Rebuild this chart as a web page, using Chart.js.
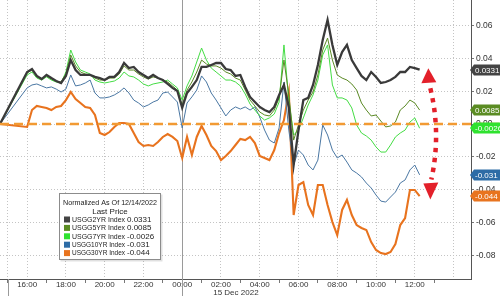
<!DOCTYPE html>
<html>
<head>
<meta charset="utf-8">
<script src="https://cdn.jsdelivr.net/npm/chart.js@4.4.0/dist/chart.umd.min.js"></script>
<style>
html,body{margin:0;padding:0;background:#fff;}
</style>
</head>
<body>
<canvas id="myChart" width="500" height="296"></canvas>
<script>
// hours counted from midnight 14 Dec 2022 (24 = 00:00 on 15 Dec)
var hours=[14.6,
 16,16.25,16.5,16.75,17,17.25,17.5,17.75,18,18.25,18.5,18.75,19,19.25,19.5,19.75,
 20,20.25,20.5,20.75,21,21.25,21.5,21.75,22,22.25,22.5,22.75,23,23.25,23.5,23.75,
 24,24.25,24.5,24.75,25,25.25,25.5,25.75,26,26.25,26.5,26.75,27,27.25,27.5,27.75,
 28,28.25,28.5,28.75,29,29.25,29.5,29.75,30,30.25,30.5,30.75,31,31.25,31.5,31.75,
 32,32.25,32.5,32.75,33,33.25,33.5,33.75,34,34.25,34.5,34.75,35,35.25,35.5,35.75,
 36,36.25]

var usgg2=[0,0.0317,0.0335,0.0293,0.0274,0.0299,0.0280,0.0262,0.0250,0.0293,0.0390,
 0.0329,0.0299,0.0299,0.0299,0.0287,0.0280,0.0268,0.0287,0.0287,0.0317,
 0.0372,0.0341,0.0348,0.0317,0.0299,0.0280,0.0299,0.0280,0.0268,0.0244,
 0.0220,0.0201,0.0098,0.0189,0.0226,0.0268,0.0348,0.0348,0.0360,0.0372,
 0.0372,0.0335,0.0329,0.0293,0.0299,0.0226,0.0165,0.0134,0.0104,0.0085,
 0.0073,0.0104,0.0177,0.0238,0.0104,-0.0250,-0.0037,0.0146,0.0159,0.0238,
 0.0360,0.0512,0.0634,0.0482,0.0360,0.0439,0.0482,0.0390,0.0341,0.0293,
 0.0268,0.0317,0.0287,0.0250,0.0256,0.0268,0.0287,0.0317,0.0317,0.0348,
 0.0341,0.0331]
var usgg5=[0,0.0311,0.0329,0.0287,0.0274,0.0293,0.0274,0.0262,0.0256,0.0305,0.0421,
 0.0354,0.0317,0.0305,0.0299,0.0280,0.0268,0.0268,0.0280,0.0280,0.0305,
 0.0354,0.0329,0.0329,0.0305,0.0287,0.0274,0.0287,0.0280,0.0268,0.0256,
 0.0232,0.0207,0.0116,0.0207,0.0256,0.0317,0.0390,0.0366,0.0354,0.0354,
 0.0341,0.0317,0.0305,0.0280,0.0268,0.0207,0.0146,0.0110,0.0073,0.0055,
 0.0049,0.0085,0.0159,0.0390,0.0177,-0.0098,-0.0006,0.0085,0.0146,0.0195,
 0.0299,0.0451,0.0524,0.0390,0.0299,0.0280,0.0268,0.0244,0.0207,0.0128,
 0.0085,0.0049,0.0055,0.0018,-0.0018,-0.0012,0.0012,0.0085,0.0110,0.0146,
 0.0128,0.0085]
var usgg7=[0,0.0299,0.0317,0.0280,0.0268,0.0287,0.0268,0.0256,0.0250,0.0317,0.0451,
 0.0378,0.0329,0.0317,0.0305,0.0268,0.0256,0.0250,0.0256,0.0262,0.0280,
 0.0317,0.0293,0.0287,0.0268,0.0244,0.0232,0.0244,0.0250,0.0256,0.0268,
 0.0244,0.0220,0.0146,0.0232,0.0293,0.0378,0.0463,0.0390,0.0341,0.0317,
 0.0293,0.0268,0.0268,0.0256,0.0232,0.0183,0.0122,0.0085,0.0049,0.0024,
 0.0037,0.0061,0.0134,0.0482,0.0146,-0.0067,-0.0037,0.0037,0.0116,0.0177,
 0.0268,0.0421,0.0482,0.0238,0.0159,0.0159,0.0146,0.0098,-0.0006,-0.0055,
 -0.0073,-0.0098,-0.0140,-0.0171,-0.0171,-0.0128,-0.0079,-0.0055,-0.0037,0.0012,
 0.0037,-0.0026]
var usgg10=[0,0.0220,0.0238,0.0244,0.0232,0.0220,0.0226,0.0213,0.0195,0.0213,0.0299,
 0.0232,0.0238,0.0250,0.0268,0.0189,0.0159,0.0159,0.0165,0.0177,0.0195,
 0.0220,0.0189,0.0146,0.0128,0.0104,0.0116,0.0134,0.0146,0.0189,0.0195,
 0.0165,0.0134,-0.0024,0.0128,0.0165,0.0207,0.0293,0.0256,0.0189,0.0146,
 0.0098,0.0049,0.0085,0.0104,0.0091,0.0104,0.0085,0.0104,0.0043,-0.0037,
 -0.0098,-0.0116,-0.0024,0.0256,-0.0037,-0.0250,-0.0159,-0.0189,-0.0250,-0.0280,
 -0.0220,-0.0006,-0.0067,-0.0159,-0.0207,-0.0189,-0.0232,-0.0280,-0.0299,-0.0323,
 -0.0360,-0.0390,-0.0433,-0.0470,-0.0476,-0.0445,-0.0415,-0.0360,-0.0341,-0.0280,
 -0.0250,-0.0310]
var usgg30=[0,-0.0018,0.0085,0.0110,0.0104,0.0098,0.0085,0.0104,0.0110,0.0146,0.0195,
 0.0152,0.0128,0.0104,0.0098,0.0055,-0.0055,-0.0067,-0.0049,-0.0018,0.0006,
 0.0006,0,-0.0055,-0.0110,-0.0134,-0.0128,-0.0134,-0.0110,-0.0079,-0.0061,
 -0.0079,-0.0104,-0.0207,-0.0079,-0.0189,-0.0079,-0.0012,-0.0067,-0.0134,-0.0165,
 -0.0220,-0.0195,-0.0165,-0.0128,-0.0091,-0.0098,-0.0079,-0.0116,-0.0195,-0.0207,
 -0.0220,-0.0159,-0.0055,0.0024,0.0195,-0.0555,-0.0372,-0.0354,-0.0494,-0.0555,
 -0.0372,-0.0372,-0.0494,-0.0598,-0.0677,-0.0524,-0.0463,-0.0555,-0.0616,-0.0634,
 -0.0646,-0.0720,-0.0768,-0.0787,-0.0793,-0.0780,-0.0732,-0.0616,-0.0573,-0.0402,
 -0.0402,-0.0440]

var names=['USGG2YR Index','USGG5YR Index','USGG7YR Index','USGG10YR Index','USGG30YR Index']
var lastLabels=['0.0331','0.0085','-0.0026','-0.031','-0.044']
var tickHours=[16,18,20,22,24,26,28,30,32,34,36]
var tickLabels=['16:00','18:00','20:00','22:00','00:00','02:00','04:00','06:00','08:00','10:00','12:00']
var yTicks=[-0.08,-0.06,-0.04,-0.02,0,0.02,0.04,0.06]
var dateLabel='15 Dec 2022'
var legendTitle=['Normalized As Of 12/14/2022','Last Price']
// red arrow annotation (time, top value, bottom value)
var arrowHour=36.75, arrowTop=0.034, arrowBottom=-0.046

var series=[usgg2,usgg5,usgg7,usgg10,usgg30]
var lineColors=['#3a3a3a','#5b8a25','#44dd44','#4a77a3','#e8731e']
var tagColors=['#444444','#5b8c23','#2fe22f','#2d6ca6','#e8741f']
var widths=[2.3,1,1,1,2.1]
var FONT='"Liberation Sans", Arial, sans-serif'

var datasets=[]
for(var k=0;k<series.length;k++){
    datasets.push({
        label:names[k],
        data:hours.map(function(h,j){return {x:h,y:series[k][j]}}),
        borderColor:lineColors[k],
        borderWidth:widths[k],
        pointRadius:0,
        tension:0,
        fill:false
    })
}

var overlay={
    id:'overlay',
    beforeDraw:function(c){
        var ctx=c.ctx
        ctx.save()
        ctx.fillStyle='#fff'
        ctx.fillRect(0,0,c.width,c.height)
        ctx.restore()
    },
    beforeDatasetsDraw:function(c){
        var ctx=c.ctx, xs=c.scales.x, a=c.chartArea
        ctx.save()
        ctx.strokeStyle='#9a9a9a'
        ctx.lineWidth=1
        var xd=Math.round(xs.getPixelForValue(24))+0.5
        ctx.beginPath(); ctx.moveTo(xd,0); ctx.lineTo(xd,c.height); ctx.stroke()
        var xl=Math.round(xs.getPixelForValue(15))+0.5
        ctx.beginPath(); ctx.moveTo(xl,a.bottom); ctx.lineTo(xl,c.height); ctx.stroke()
        ctx.restore()
    },
    afterDatasetsDraw:function(c){
        var ctx=c.ctx, xs=c.scales.x, ys=c.scales.y, a=c.chartArea
        ctx.save()
        // zero line
        var y0=ys.getPixelForValue(0)
        ctx.strokeStyle='#f29a33'
        ctx.lineWidth=2.5
        ctx.setLineDash([9,5])
        ctx.beginPath(); ctx.moveTo(a.left,y0); ctx.lineTo(c.width,y0); ctx.stroke()
        ctx.setLineDash([])

        // red arrow
        var ax=xs.getPixelForValue(arrowHour)
        var ty=ys.getPixelForValue(arrowTop), by=ys.getPixelForValue(arrowBottom)
        ctx.fillStyle='#e3202a'
        ctx.beginPath(); ctx.moveTo(ax-1,ty); ctx.lineTo(ax-8,ty+15); ctx.lineTo(ax+7,ty+14); ctx.closePath(); ctx.fill()
        ctx.beginPath(); ctx.moveTo(ax+1,by); ctx.lineTo(ax-6,by-16); ctx.lineTo(ax+9,by-17); ctx.closePath(); ctx.fill()
        ctx.strokeStyle='#e3202a'
        ctx.lineWidth=4.5
        ctx.setLineDash([4.5,5.5])
        ctx.beginPath(); ctx.moveTo(ax+1,ty+20); ctx.quadraticCurveTo(ax+12,(ty+by)/2,ax+2,by-20); ctx.stroke()
        ctx.setLineDash([])

        // legend box
        var bx=59, by0=193, bw=102, bh=67
        ctx.fillStyle='rgba(0,0,0,0.12)'
        ctx.fillRect(bx+1.5,by0+1.5,bw,bh)
        ctx.fillStyle='#fff'
        ctx.fillRect(bx,by0,bw,bh)
        ctx.strokeStyle='#8c8c8c'
        ctx.lineWidth=1
        ctx.strokeRect(bx+0.5,by0+0.5,bw-1,bh-1)
        ctx.fillStyle='#222'
        ctx.font='8px '+FONT
        ctx.textBaseline='middle'
        ctx.textAlign='center'
        ctx.fillText(legendTitle[0],bx+bw/2,by0+10,94)
        ctx.fillText(legendTitle[1],bx+bw/2,by0+18.5)
        ctx.textAlign='left'
        for(var k=0;k<names.length;k++){
            var ry=by0+26.5+k*8.4
            ctx.fillStyle=tagColors[k]
            ctx.fillRect(bx+5,ry-3,6,6)
            ctx.fillStyle='#222'
            ctx.fillText(names[k],bx+13,ry,53)
            ctx.fillText(lastLabels[k],bx+68,ry,31)
        }
        ctx.restore()
    },
    afterDraw:function(c){
        var ctx=c.ctx, xs=c.scales.x, ys=c.scales.y, a=c.chartArea
        ctx.save()
        ctx.font='8px '+FONT
        ctx.textBaseline='middle'
        ctx.textAlign='left'
        ctx.fillStyle='#333'
        ctx.fillText(dateLabel,xs.getPixelForValue(25.6),292.5)
        // last value tags
        for(var k=0;k<series.length;k++){
            var v=series[k][series[k].length-1]
            var y=Math.round(ys.getPixelForValue(v))
            var x=a.right
            ctx.fillStyle=tagColors[k]
            ctx.beginPath()
            ctx.moveTo(x-1,y); ctx.lineTo(x+3,y-5.5); ctx.lineTo(c.width,y-5.5); ctx.lineTo(c.width,y+5.5); ctx.lineTo(x+3,y+5.5)
            ctx.closePath(); ctx.fill()
            ctx.fillStyle='#fff'
            ctx.fillText(lastLabels[k],x+4,y+0.5)
        }
        ctx.restore()
    }
}

var ctx=document.getElementById('myChart')
var myChart=new Chart(ctx,{
    type:'line',
    data:{datasets:datasets},
    options:{
        responsive:false,
        animation:false,
        devicePixelRatio:1,
        layout:{padding:0},
        plugins:{legend:{display:false},tooltip:{enabled:false}},
        scales:{
            x:{
                type:'linear',
                min:14.6,
                max:38.9,
                afterBuildTicks:function(s){
                    var t=[]
                    for(var h=15;h<=38;h++) t.push({value:h})
                    s.ticks=t
                },
                afterFit:function(s){s.height=17; s.paddingLeft=0; s.paddingRight=0},
                ticks:{
                    autoSkip:false,
                    maxRotation:0,
                    padding:-3,
                    color:'#333',
                    font:{family:FONT,size:8},
                    callback:function(v){
                        var i=tickHours.indexOf(v)
                        return i<0?'':tickLabels[i]
                    }
                },
                grid:{
                    color:function(c){
                        var v=c.tick?c.tick.value:0
                        return (v%2===0||v===15)?'#c4c4c4':'rgba(0,0,0,0)'
                    },
                    tickColor:function(c){
                        var v=c.tick?c.tick.value:0
                        return (v%2===0)?'rgba(0,0,0,0)':'#777'
                    },
                    tickLength:4
                },
                border:{color:'#555',dash:[1,2]}
            },
            y:{
                position:'right',
                min:-0.0945,
                max:0.0756,
                afterBuildTicks:function(s){
                    s.ticks=yTicks.map(function(v){return {value:v}})
                },
                afterFit:function(s){s.width=29; s.paddingTop=0; s.paddingBottom=0},
                ticks:{
                    padding:2,
                    color:'#333',
                    font:{family:FONT,size:8.5},
                    callback:function(v){return v.toFixed(2)}
                },
                grid:{color:'#c4c4c4',tickColor:'#777',tickLength:3},
                border:{color:'#555',dash:[1,2]}
            }
        }
    },
    plugins:[overlay]
})
</script>
</body>
</html>
